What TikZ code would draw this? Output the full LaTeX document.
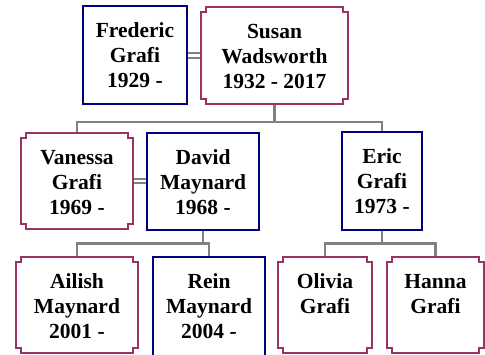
\documentclass[tikz,border=0pt]{standalone}
\usepackage{fontspec}
\setmainfont{Liberation Serif}
\usetikzlibrary{calc}
\definecolor{manblue}{RGB}{0,0,128}
\definecolor{womanpink}{RGB}{153,51,102}
\definecolor{linkgray}{RGB}{128,128,128}
% notch size of the women's frames
\def\nt{5pt}
% stepped-corner frame drawn around a named node
\newcommand\notchframe[1]{%
  \draw[womanpink, line width=2.2pt] let \p1=(#1.north west), \p2=(#1.south east) in
    (\x1+\nt,\y1) -- (\x2-\nt,\y1) -- (\x2-\nt,\y1-\nt) -- (\x2,\y1-\nt)
    -- (\x2,\y2+\nt) -- (\x2-\nt,\y2+\nt) -- (\x2-\nt,\y2) -- (\x1+\nt,\y2)
    -- (\x1+\nt,\y2+\nt) -- (\x1,\y2+\nt) -- (\x1,\y1-\nt) -- (\x1+\nt,\y1-\nt) -- cycle;}
% person text: top aligned in a box of given width and height
\newcommand\who[3]{\parbox[t][#2pt][t]{#1pt}{\centering\fontsize{21.5}{25}\selectfont\bfseries\rule{0pt}{31pt}#3}}
\begin{document}
\begin{tikzpicture}[x=1pt,y=-1pt,
  person/.style={inner sep=0pt, outer sep=0pt, fill=white},
  man/.style={person, draw=manblue, line width=2.2pt},
  woman/.style={person},
  link/.style={draw=linkgray, line width=2.2pt},
  marriage/.style={draw=linkgray, line width=2pt, double=white, double distance=2.6pt}]
\useasboundingbox (0,0) rectangle (485,354);
\clip (0,0) rectangle (485,354);

% junction points of the descent lines
\coordinate (gen1) at (274.5,121.7);
\coordinate (gen2a) at (203,243.5);
\coordinate (gen2b) at (382,243.5);

% descent lines
\draw[link] (274.5,104) -- (gen1);
\draw[link] (77,133) |- (gen1) -| (382,132);
\draw[link] (203,230) -- (gen2a);
\draw[link] (77,257) |- (gen2a) -| (209,257);
\draw[link] (382,230) -- (gen2b);
\draw[link] (325,257) |- (gen2b) -| (435.5,257);

% marriages
\draw[marriage] (187,55.5) -- (201,55.5);
\draw[marriage] (133,181) -- (147,181);

% generation 1
\node[man] (fred) at (135,55) {\who{104}{98}{Frederic\\Grafi\\1929 -}};
\node[woman] (susan) at (274.5,55.5) {\who{147}{97}{Susan\\Wadsworth\\1932 - 2017}};
\notchframe{susan}

% generation 2
\node[woman] (vanessa) at (77,181) {\who{112}{96}{Vanessa\\Grafi\\1969 -}};
\notchframe{vanessa}
\node[man] (david) at (203,181.5) {\who{112}{97}{David\\Maynard\\1968 -}};
\node[man] (eric) at (382,181) {\who{80}{98}{Eric\\Grafi\\1973 -}};

% generation 3
\node[woman] (ailish) at (77,305) {\who{122}{96}{Ailish\\Maynard\\2001 -}};
\notchframe{ailish}
\node[man] (rein) at (209,307) {\who{112}{100}{Rein\\Maynard\\2004 -}};
\node[woman] (olivia) at (325,305) {\who{94}{96}{Olivia\\Grafi}};
\notchframe{olivia}
\node[woman] (hanna) at (435.5,305) {\who{97}{96}{Hanna\\Grafi}};
\notchframe{hanna}
\end{tikzpicture}
\end{document}
